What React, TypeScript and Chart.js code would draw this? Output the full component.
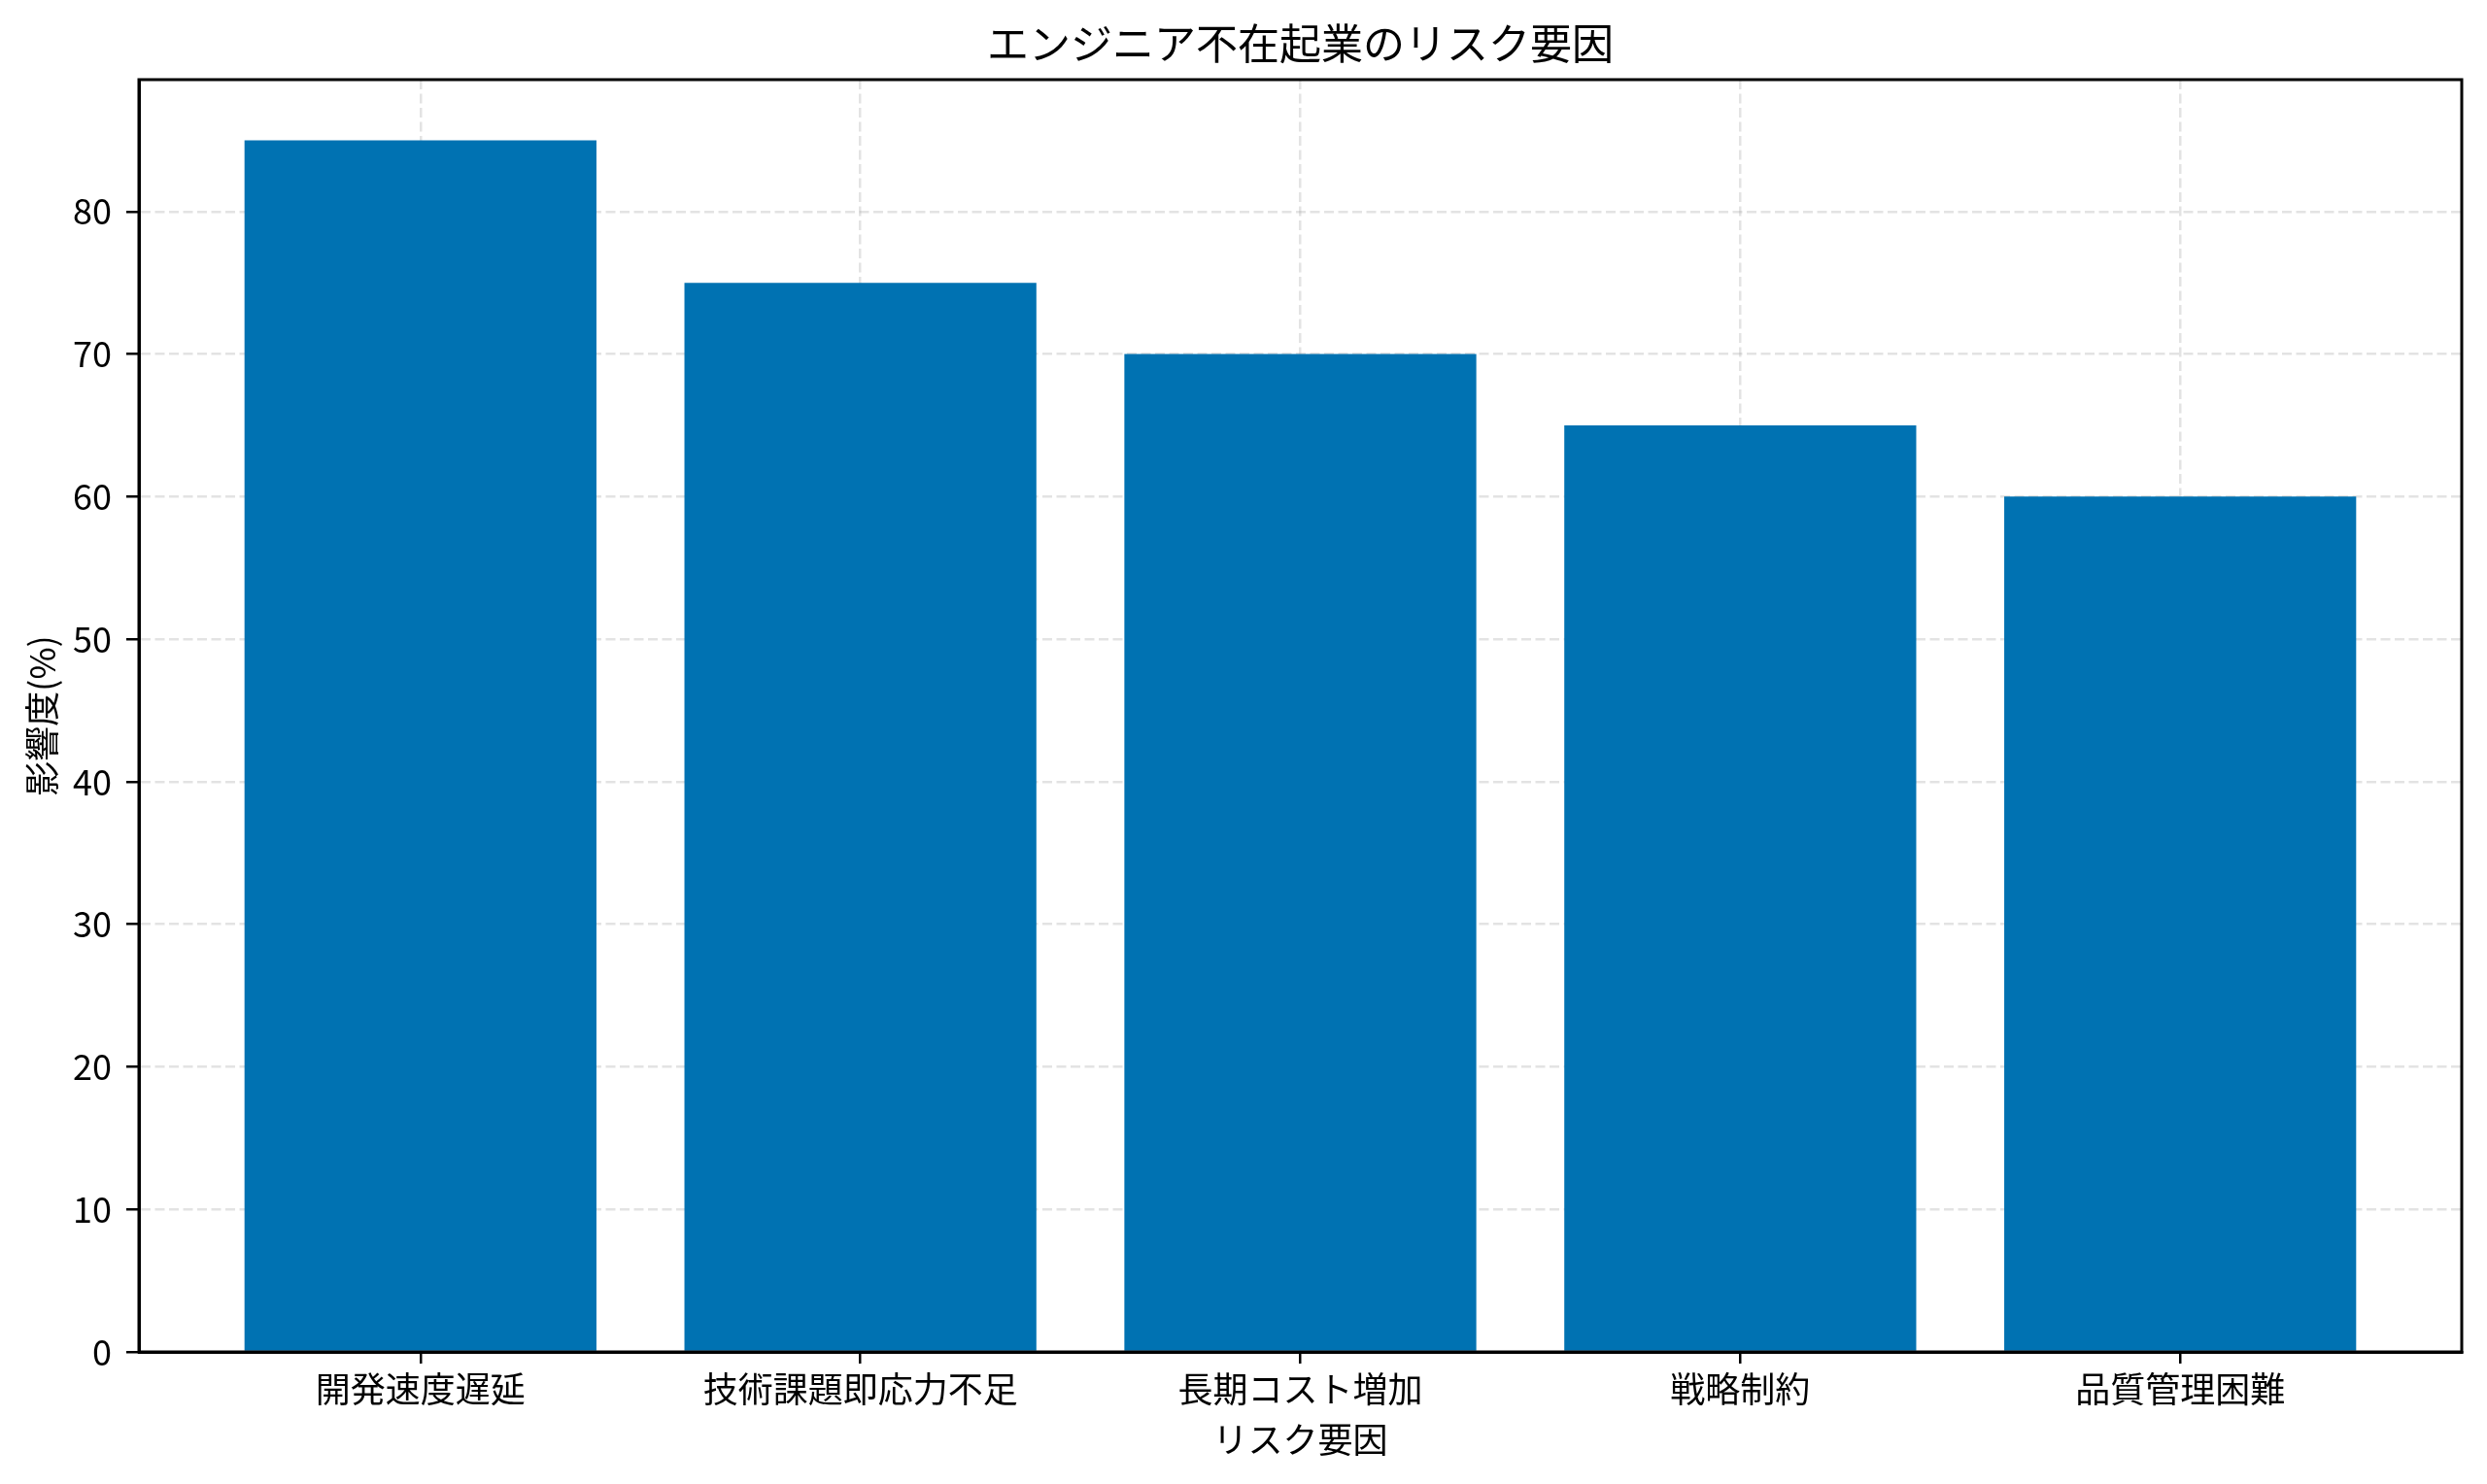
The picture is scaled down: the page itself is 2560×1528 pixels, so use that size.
import React, { useEffect, useRef } from "react";
import { Chart, registerables } from "chart.js";

Chart.register(...registerables);

const TITLE = "エンジニア不在起業のリスク要因";
const X_LABEL = "リスク要因";
const Y_LABEL = "影響度(%)";
const categories = ["開発速度遅延", "技術課題即応力不足", "長期コスト増加", "戦略制約", "品質管理困難"];
const impactValues = [85, 75, 70, 65, 60];
const yTickValues = [0, 10, 20, 30, 40, 50, 60, 70, 80];

const FONT = '"Noto Sans CJK JP", "Noto Sans", sans-serif';
const BAR_WIDTH = 0.8;

export default function App() {
  const ref = useRef<HTMLCanvasElement>(null);

  useEffect(() => {
    if (!ref.current) return;
    const n = categories.length;
    const span = n - 1 + BAR_WIDTH;
    const xMin = -BAR_WIDTH / 2 - 0.05 * span;
    const xMax = n - 1 + BAR_WIDTH / 2 + 0.05 * span;
    const yMax = Math.max(...impactValues) * 1.05;

    const framePlugin = {
      id: "frame",
      afterDraw(chart: any) {
        const { ctx, chartArea } = chart;
        const { left, top, right, bottom } = chartArea;
        ctx.save();
        ctx.strokeStyle = "#000";
        ctx.lineWidth = 3;
        ctx.strokeRect(left, top, right - left, bottom - top);
        ctx.restore();
      },
    };

    const gridColor = "rgba(176,176,176,0.35)";

    const chart = new Chart(ref.current, {
      type: "bar",
      data: {
        datasets: [
          {
            data: impactValues.map((v, i) => ({ x: i, y: v })),
            backgroundColor: "#0072B2",
            borderWidth: 0,
            barPercentage: BAR_WIDTH,
            categoryPercentage: 1,
          },
        ],
      },
      options: {
        animation: false,
        responsive: true,
        maintainAspectRatio: false,
        layout: { padding: { left: 0, right: 26, top: 0, bottom: 0 } },
        plugins: {
          legend: { display: false },
          tooltip: { enabled: false },
          title: {
            display: true,
            text: TITLE,
            fullSize: false,
            color: "#000",
            font: { family: FONT, size: 43, weight: "normal", lineHeight: 1.2 },
            padding: { top: 19, bottom: 11.4 },
          },
        },
        scales: {
          x: {
            type: "linear",
            min: xMin,
            max: xMax,
            offset: false,
            z: 1,
            afterBuildTicks: (scale: any) => {
              scale.ticks = categories.map((_, i) => ({ value: i }));
            },
            afterFit: (scale: any) => {
              scale.height = 136;
            },
            ticks: {
              color: "#000",
              font: { family: FONT, size: 36, lineHeight: 1.2 },
              padding: 5,
              maxRotation: 0,
              autoSkip: false,
              callback: (value: any) => categories[Math.round(Number(value))] ?? "",
            },
            grid: {
              offset: false,
              color: gridColor,
              lineWidth: 2.5,
              tickColor: "#000",
              tickLength: 12,
              tickWidth: 2.5,
            },
            border: { display: true, color: "#000", width: 3, dash: [10, 4.5] },
            title: {
              display: true,
              text: X_LABEL,
              color: "#000",
              font: { family: FONT, size: 36, lineHeight: 1.2 },
              padding: { top: 0, bottom: 24.4 },
            },
          },
          y: {
            type: "linear",
            min: 0,
            max: yMax,
            z: 1,
            afterBuildTicks: (scale: any) => {
              scale.ticks = yTickValues.map((v) => ({ value: v }));
            },
            afterFit: (scale: any) => {
              scale.width = 143;
            },
            ticks: {
              color: "#000",
              font: { family: FONT, size: 36, lineHeight: 1.2 },
              padding: 15,
              callback: (value: any) => String(value),
            },
            grid: {
              color: gridColor,
              lineWidth: 2.5,
              tickColor: "#000",
              tickLength: 13,
              tickWidth: 2.5,
            },
            border: { display: true, color: "#000", width: 3, dash: [10, 4.5] },
            title: {
              display: true,
              text: Y_LABEL,
              color: "#000",
              font: { family: FONT, size: 36, lineHeight: 1.2 },
              padding: { top: 21.4, bottom: 0 },
            },
          },
        },
      },
      plugins: [framePlugin],
    } as any);

    return () => chart.destroy();
  }, []);

  return (
    <div
      style={{
        position: "fixed",
        left: 0,
        top: 0,
        width: 2560,
        height: 1528,
        background: "#fff",
      }}
    >
      <canvas ref={ref} />
    </div>
  );
}
